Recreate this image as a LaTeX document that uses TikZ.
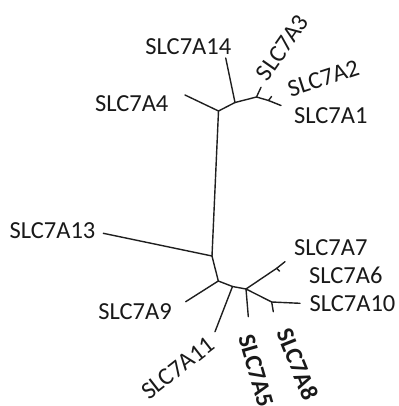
\documentclass[tikz,border=0pt]{standalone}
\usepackage{fontspec}
\setmainfont{Carlito}
\begin{document}
\begin{tikzpicture}[x=1pt,y=-1pt,
  edge/.style={line width=1.4pt, draw=black!88, line cap=round},
  lab/.style={inner sep=0pt, anchor=center, font=\fontsize{24.5}{28}\selectfont, text=black!90},
  blab/.style={lab, font=\fontsize{24.5}{28}\selectfont\bfseries}]
\useasboundingbox (0,0) rectangle (398,406);
% internal nodes
\coordinate (A) at (218.5,111);
\coordinate (B) at (235,102.5);
\coordinate (C) at (256.5,97);
\coordinate (D) at (268.5,100.5);
\coordinate (E) at (212,256);
\coordinate (F) at (218.3,281);
\coordinate (G) at (232.5,286.5);
\coordinate (H) at (246,289);
\coordinate (I) at (276.7,268.3);
\coordinate (J) at (271.7,302);
% leaf ends
\coordinate (l14) at (225.7,58);
\coordinate (l4) at (185,95);
\coordinate (l3) at (261,87.3);
\coordinate (l2) at (271.5,96.5);
\coordinate (l1) at (281,105.5);
\coordinate (l13) at (103.3,233.3);
\coordinate (l9) at (185.7,301.7);
\coordinate (l11) at (215,331.7);
\coordinate (l5) at (248.3,316.7);
\coordinate (l7) at (285,261.7);
\coordinate (l6) at (279.5,271.2);
\coordinate (l10) at (300,303.3);
\coordinate (l8) at (273.3,311.7);
% edges
\draw[edge] (l4) -- (A);
\draw[edge] (A) -- (B);
\draw[edge] (B) -- (l14);
\draw[edge] (B) -- (C);
\draw[edge] (C) -- (l3);
\draw[edge] (C) -- (D);
\draw[edge] (D) -- (l2);
\draw[edge] (D) -- (l1);
\draw[edge] (A) -- (E);
\draw[edge] (l13) -- (E);
\draw[edge] (E) -- (F);
\draw[edge] (F) -- (l9);
\draw[edge] (F) -- (G);
\draw[edge] (G) -- (l11);
\draw[edge] (G) -- (H);
\draw[edge] (H) -- (l5);
\draw[edge] (H) -- (I);
\draw[edge] (I) -- (l7);
\draw[edge] (I) -- (l6);
\draw[edge] (H) -- (J);
\draw[edge] (J) -- (l10);
\draw[edge] (J) -- (l8);
% labels
\node[lab] (t14) at (188.3,46.8) {SLC7A14};
\node[lab] (t4) at (131.7,104) {SLC7A4};
\node[lab, rotate=55] (t3) at (282.5,47.5) {SLC7A3};
\node[lab, rotate=18] (t2) at (323.3,78.3) {SLC7A2};
\node[lab] (t1) at (330.8,115.3) {SLC7A1};
\node[lab] (t13) at (52.5,230.8) {SLC7A13};
\node[lab] (t7) at (330.8,247.5) {SLC7A7};
\node[lab] (t6) at (345.8,275.8) {SLC7A6};
\node[lab] (t10) at (352.5,303.3) {SLC7A10};
\node[lab] (t9) at (135,311.7) {SLC7A9};
\node[lab, rotate=38] (t11) at (178,368) {SLC7A11};
\node[blab, rotate=-74] (t5) at (256,371) {SLC7A5};
\node[blab, rotate=-68] (t8) at (298,364) {SLC7A8};
\end{tikzpicture}
\end{document}
